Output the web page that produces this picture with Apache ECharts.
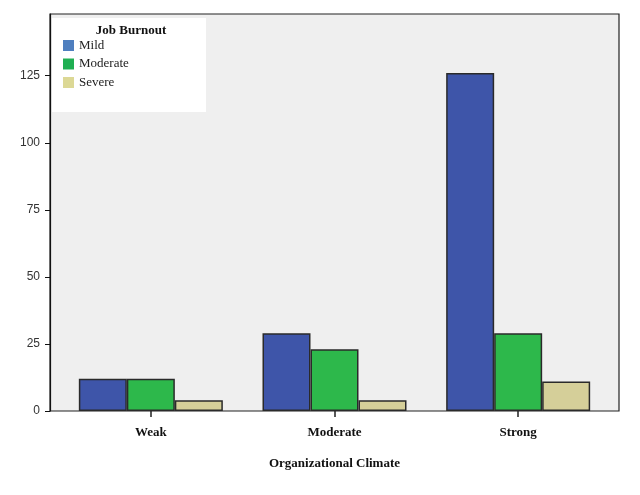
<!DOCTYPE html>
<html>
<head>
<meta charset="utf-8">
<script src="https://cdn.jsdelivr.net/npm/echarts@6/dist/echarts.min.js"></script>
<style>html,body{margin:0;padding:0;background:#fff;}#c{width:640px;height:495px;}</style>
</head>
<body>
<div id="c"></div>
<script>
const categories = ['Weak', 'Moderate', 'Strong'];
const seriesNames = ['Mild', 'Moderate', 'Severe'];
const mild = [12, 29, 126];
const moderate = [12, 23, 29];
const severe = [4, 4, 11];
const yMin = 0, yMax = 148, yInterval = 25;

const barColors = ['#3e55a9', '#2db84b', '#d5cf99'];
const legendColors = ['#4f7fbf', '#1faf52', '#dcd895'];
const serif = '"Liberation Serif", "Times New Roman", serif';

const chart = echarts.init(document.getElementById('c'));
const mk = (name, data, i) => ({
  name: name, type: 'bar', data: data, xAxisIndex: 1, yAxisIndex: 1,
  barWidth: 48, barGap: '0%',
  itemStyle: { color: barColors[i], borderColor: '#2a2a2a', borderWidth: 1.5 },
  emphasis: { disabled: true }
});
chart.setOption({
  animation: false,
  backgroundColor: '#fff',
  grid: [
    { left: 50, right: 21, top: 14, bottom: 84, show: true, backgroundColor: '#efefef', borderColor: '#222', borderWidth: 1.2 },
    { left: 59, right: 30, top: 14, bottom: 84 }
  ],
  xAxis: [
    { type: 'value', gridIndex: 0, show: false, min: 0, max: 1 },
    { type: 'category', gridIndex: 1, data: categories,
      axisLine: { show: false },
      axisTick: { show: true, alignWithLabel: true, length: 6, lineStyle: { color: '#222', width: 1.5 } },
      axisLabel: { fontFamily: serif, fontWeight: 'bold', fontSize: 13, color: '#111', margin: 15 },
      name: 'Organizational Climate', nameLocation: 'middle', nameGap: 46,
      nameTextStyle: { fontFamily: serif, fontWeight: 'bold', fontSize: 13, color: '#111' }
    }
  ],
  yAxis: [
    { type: 'value', gridIndex: 0, min: yMin, max: yMax, interval: yInterval,
      splitLine: { show: false },
      axisLine: { show: true, lineStyle: { color: '#111', width: 1.2 } },
      axisTick: { show: true, length: 5, lineStyle: { color: '#111' } },
      axisLabel: { showMaxLabel: false, fontFamily: '"Liberation Sans", Arial, sans-serif', fontSize: 12, color: '#333', margin: 10,
        formatter: v => (v % yInterval === 0 ? String(v) : '') }
    },
    { type: 'value', gridIndex: 1, min: yMin, max: yMax, interval: yInterval, show: false }
  ],
  legend: {
    orient: 'vertical', left: 58, top: 34, itemWidth: 11, itemHeight: 11, itemGap: 5.5,
    icon: 'rect', selectedMode: false,
    textStyle: { fontFamily: serif, fontSize: 13, color: '#222' },
    data: seriesNames.map((n, i) => ({ name: n, itemStyle: { color: legendColors[i], borderWidth: 0 } }))
  },
  graphic: [
    { type: 'rect', z: 1, shape: { x: 52, y: 18, width: 154, height: 94 }, style: { fill: '#ffffff' } },
    { type: 'text', z: 5, x: 131, y: 31, style: { text: 'Job Burnout', font: 'bold 13px ' + serif, fill: '#111', textAlign: 'center', textVerticalAlign: 'middle' } }
  ],
  series: [mk(seriesNames[0], mild, 0), mk(seriesNames[1], moderate, 1), mk(seriesNames[2], severe, 2)]
});
</script>
</body>
</html>
